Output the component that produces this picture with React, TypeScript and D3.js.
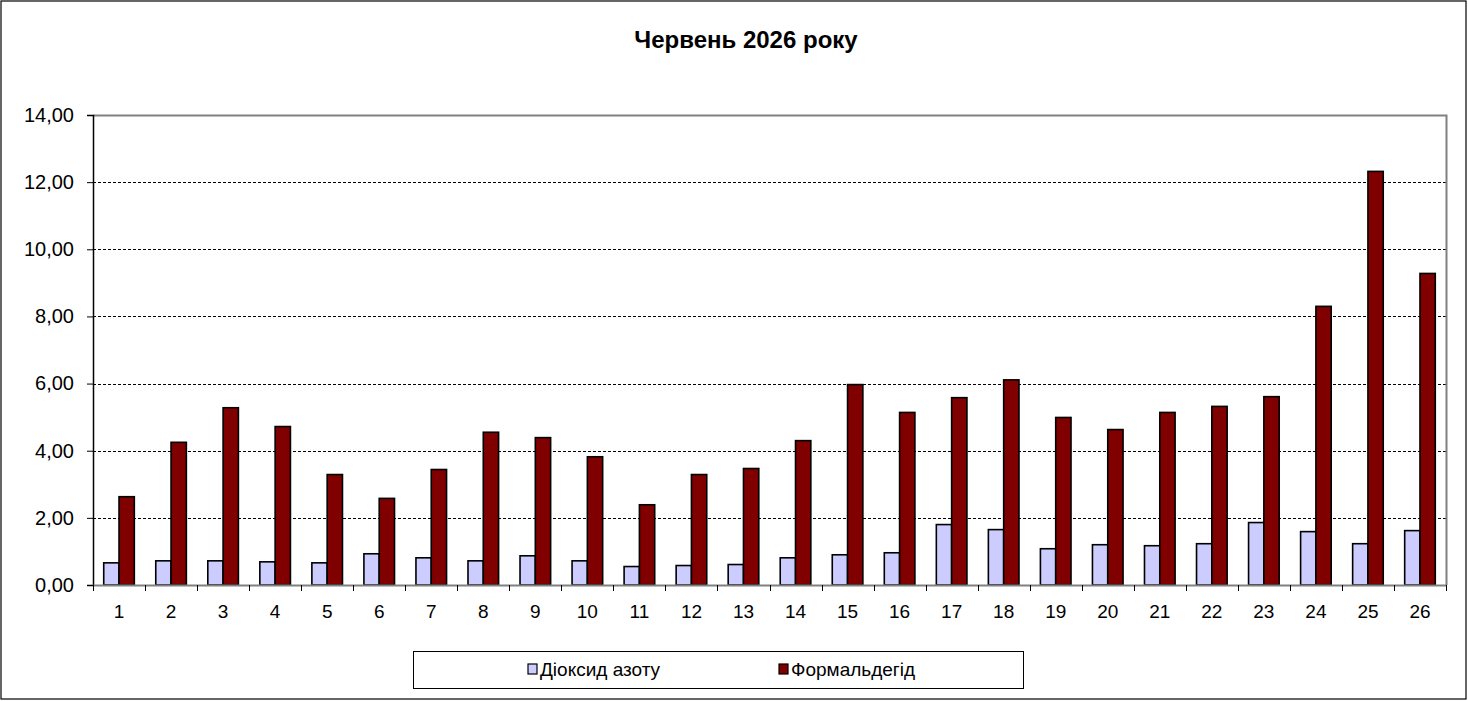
import { useRef, useEffect } from 'react';
import * as d3 from 'd3';

// Data
const days = Array.from({ length: 26 }, (_, i) => String(i + 1));
const no2 = [0.66, 0.72, 0.72, 0.69, 0.66, 0.93, 0.81, 0.72, 0.87, 0.72, 0.55, 0.58, 0.61, 0.81, 0.90, 0.96, 1.80, 1.65, 1.08, 1.20, 1.17, 1.23, 1.86, 1.59, 1.23, 1.62];
const formaldehyde = [2.63, 4.25, 5.28, 4.72, 3.29, 2.58, 3.44, 4.55, 4.39, 3.82, 2.39, 3.29, 3.47, 4.30, 5.97, 5.14, 5.58, 6.11, 4.99, 4.63, 5.14, 5.32, 5.61, 8.30, 12.32, 9.28];
const seriesNames = ['Діоксид азоту', 'Формальдегід'];
const seriesColors = ['#CCCCFF', '#800000'];
const yTicks = [0, 2, 4, 6, 8, 10, 12, 14];
const title = 'Червень 2026 року';

const W = 1468;
const H = 701;
const FONT = '"Liberation Sans", Arial, sans-serif';

const App = () => {
    const svgRef = useRef<SVGSVGElement>(null);

    useEffect(() => {
        document.body.style.margin = '0';
        if (!svgRef.current) return;

        const root = d3.select(svgRef.current);
        root.selectAll('*').remove();

        const plot = { left: 93, right: 1446, top: 115, bottom: 585 };

        // Outer frame
        root.append('rect')
            .attr('x', 1).attr('y', 1)
            .attr('width', W - 3).attr('height', H - 3)
            .attr('fill', '#fff').attr('stroke', '#000').attr('stroke-width', 1.2);

        root.append('text')
            .attr('x', 746).attr('y', 48)
            .attr('text-anchor', 'middle')
            .attr('font-family', FONT).attr('font-size', 24).attr('font-weight', 'bold')
            .text(title);

        const x = d3.scaleBand<string>()
            .domain(days)
            .range([plot.left, plot.right]);

        const barW = x.bandwidth() * 0.294;
        const inner = d3.scaleBand<number>()
            .domain([0, 1])
            .range([x.bandwidth() / 2 - barW, x.bandwidth() / 2 + barW]);

        const y = d3.scaleLinear()
            .domain([0, 14])
            .range([plot.bottom, plot.top]);

        // Grid lines
        root.append('g')
            .selectAll('line')
            .data(yTicks.filter(t => t > 0 && t < 14))
            .enter()
            .append('line')
            .attr('x1', plot.left).attr('x2', plot.right)
            .attr('y1', d => Math.round(y(d)) + 0.5).attr('y2', d => Math.round(y(d)) + 0.5)
            .attr('stroke', '#000').attr('stroke-width', 1)
            .attr('stroke-dasharray', '3,2');

        // Plot border (top/right gray)
        root.append('path')
            .attr('d', `M${plot.left},${plot.top + 0.5}H${plot.right + 0.5}V${plot.bottom}`)
            .attr('fill', 'none').attr('stroke', '#808080').attr('stroke-width', 2);

        // Bars
        const series = [no2, formaldehyde];
        series.forEach((vals, si) => {
            root.append('g')
                .selectAll('rect')
                .data(vals)
                .enter()
                .append('rect')
                .attr('x', (_d, i) => (x(days[i]) || 0) + (inner(si) || 0))
                .attr('width', inner.bandwidth())
                .attr('y', d => y(d))
                .attr('height', d => y(0) - y(d))
                .attr('fill', seriesColors[si])
                .attr('stroke', '#000')
                .attr('stroke-width', 1.6);
        });

        // Y axis
        const yAxis = root.append('g')
            .attr('transform', `translate(${plot.left},0)`)
            .call(d3.axisLeft(y).tickValues(yTicks).tickSize(6).tickPadding(13)
                .tickFormat(d => d3.format('.2f')(d as number).replace('.', ',')));
        yAxis.select('.domain').attr('stroke', '#000').attr('stroke-width', 1.5);
        yAxis.selectAll('.tick line').attr('stroke', '#000');
        yAxis.selectAll('text')
            .attr('font-family', FONT).attr('font-size', 20).attr('fill', '#000');

        // X axis
        const xAxis = root.append('g')
            .attr('transform', `translate(0,${plot.bottom})`)
            .call(d3.axisBottom(x).tickSize(0).tickPadding(20));
        xAxis.select('.domain').attr('stroke', '#808080').attr('stroke-width', 2);
        xAxis.selectAll('text')
            .attr('font-family', FONT).attr('font-size', 19).attr('fill', '#000');

        // Band separators
        root.append('g')
            .selectAll('line')
            .data(days.concat(['end']))
            .enter()
            .append('line')
            .attr('x1', (d, i) => i < days.length ? Math.round(x(d) || 0) + 0.5 : plot.right + 0.5)
            .attr('x2', (d, i) => i < days.length ? Math.round(x(d) || 0) + 0.5 : plot.right + 0.5)
            .attr('y1', plot.bottom).attr('y2', plot.bottom + 6)
            .attr('stroke', '#000').attr('stroke-width', 1);

        // Legend
        const legend = root.append('g');
        legend.append('rect')
            .attr('x', 413.5).attr('y', 651.5)
            .attr('width', 610).attr('height', 37)
            .attr('fill', '#fff').attr('stroke', '#000').attr('stroke-width', 1);

        const legendX = [528, 779];
        seriesNames.forEach((name, i) => {
            legend.append('rect')
                .attr('x', legendX[i]).attr('y', 664)
                .attr('width', 9).attr('height', 10)
                .attr('fill', seriesColors[i]).attr('stroke', '#000').attr('stroke-width', 1.2);
            legend.append('text')
                .attr('x', legendX[i] + 12).attr('y', 676)
                .attr('font-family', FONT).attr('font-size', 19)
                .text(name);
        });
    }, []);

    return (
        <svg ref={svgRef} width={W} height={H} style={{ display: 'block' }}></svg>
    );
};

export default App;
